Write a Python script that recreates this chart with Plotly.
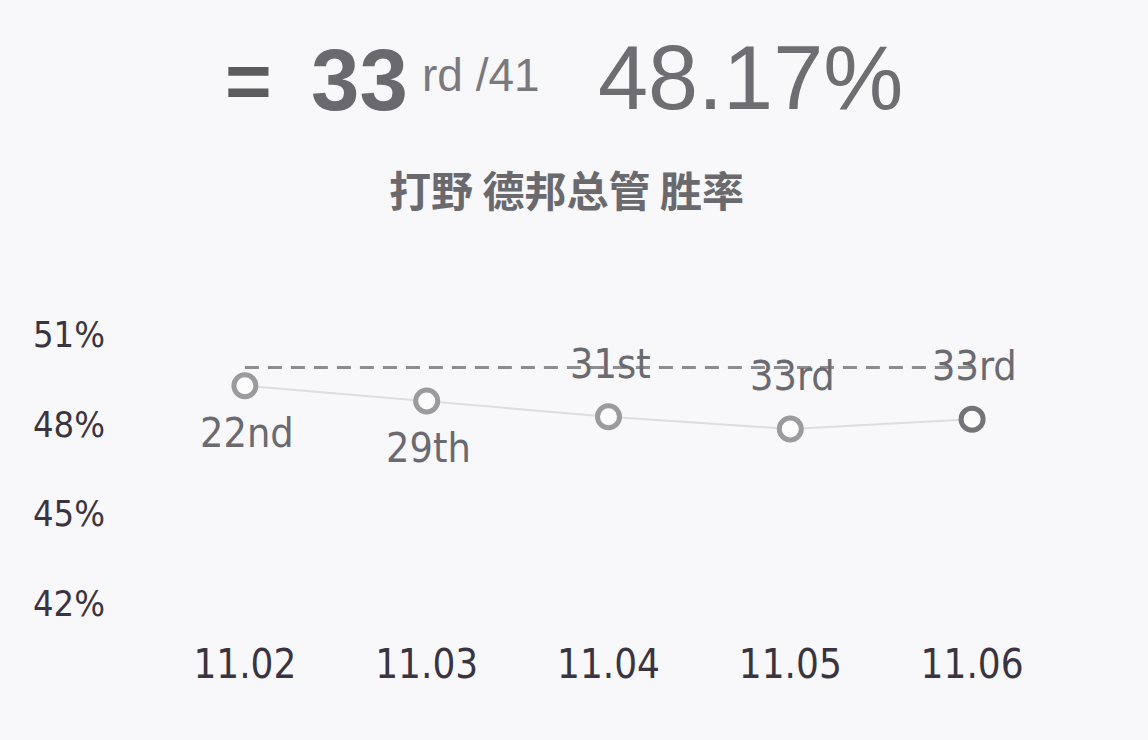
import plotly.graph_objects as go

# ---- data ----
dates = ["11.02", "11.03", "11.04", "11.05", "11.06"]
win_rates = [49.29, 48.78, 48.25, 47.84, 48.17]
ranks = ["22nd", "29th", "31st", "33rd", "33rd"]
rank_above = [False, False, True, True, True]
reference_rate = 49.9
y_ticks = [42, 45, 48, 51]
y_tick_labels = ["42%", "45%", "48%", "51%"]
current_rank = "33"
rank_suffix = "rd /41"
current_rate = "48.17%"
title_text = "打野 德邦总管 胜率"

W, H = 1148, 740
L, R, T, B = 154, 1063, 290, 633


def px(x):
    return (x - L) / (R - L)


def py(y):
    return (B - y) / (B - T)


bg = "#f8f7fa"
COND = "DejaVu Sans Condensed"
fig = go.Figure()

# dashed reference line
fig.add_trace(go.Scatter(
    x=[dates[0], dates[-1]], y=[reference_rate, reference_rate],
    mode="lines", line=dict(color="#8c8b90", width=3, dash="14px,9px"),
    hoverinfo="skip", showlegend=False))

# thin connecting line
fig.add_trace(go.Scatter(
    x=dates, y=win_rates, mode="lines",
    line=dict(color="#dddcdf", width=2), hoverinfo="skip", showlegend=False))

# markers
marker_colors = ["#9b9a9e"] * (len(dates) - 1) + ["#747378"]
fig.add_trace(go.Scatter(
    x=dates, y=win_rates, mode="markers",
    marker=dict(size=22, color="#fcfcfd", line=dict(color=marker_colors, width=5)),
    showlegend=False))

ann = []
# rank labels anchored to the data points (category index on the x axis)
for i, (v, r, above) in enumerate(zip(win_rates, ranks, rank_above)):
    ann.append(dict(x=i, y=v, xref="x", yref="y", text=r, showarrow=False,
                    xanchor="center", yanchor="middle",
                    yshift=(53 if above else -47), xshift=2,
                    font=dict(family=COND, size=41, color="#6b6a70")))

fig.update_layout(
    width=W, height=H,
    margin=dict(l=L, r=W - R, t=T, b=H - B),
    paper_bgcolor=bg, plot_bgcolor=bg,
    xaxis=dict(type="category", categoryorder="array", categoryarray=dates,
               range=[-0.5, 4.5], showgrid=False, zeroline=False,
               showline=False, ticks="", ticklabelstandoff=4,
               tickfont=dict(family=COND, size=40, color="#3a3440")),
    yaxis=dict(range=[41, 52.5], tickvals=y_ticks, ticktext=y_tick_labels,
               showgrid=False, zeroline=False, showline=False, ticks="",
               ticklabelstandoff=48,
               tickfont=dict(family=COND, size=36, color="#3a3440")),
)

hdr = []
hdr.append(dict(x=px(248), y=py(80), text="<b>=</b>", showarrow=False,
                font=dict(family="Liberation Sans", size=80, color="#5c5c60"),
                xanchor="center", yanchor="middle"))
hdr.append(dict(x=px(309), y=py(79), text="<b>" + current_rank + "</b>", showarrow=False,
                font=dict(family="Liberation Sans", size=87, color="#6a696d"),
                xanchor="left", yanchor="middle"))
hdr.append(dict(x=px(420), y=py(75), text=rank_suffix, showarrow=False,
                font=dict(family="Liberation Sans", size=46, color="#7a797e"),
                xanchor="left", yanchor="middle"))
hdr.append(dict(x=px(596), y=py(78), text=current_rate, showarrow=False,
                font=dict(family="Liberation Sans", size=90, color="#6e6d72"),
                xanchor="left", yanchor="middle"))
hdr.append(dict(x=px(566), y=py(188), text="<b>" + title_text + "</b>", showarrow=False,
                font=dict(family="Noto Sans CJK SC", size=42, color="#6a696d"),
                xanchor="center", yanchor="middle"))
for a in hdr:
    a["xref"] = "paper"
    a["yref"] = "paper"
fig.update_layout(annotations=ann + hdr)

fig.write_html(
    "out.html",
    config={"displayModeBar": False},
    post_script="document.body.style.margin='0';document.body.style.background='" + bg + "';",
)
